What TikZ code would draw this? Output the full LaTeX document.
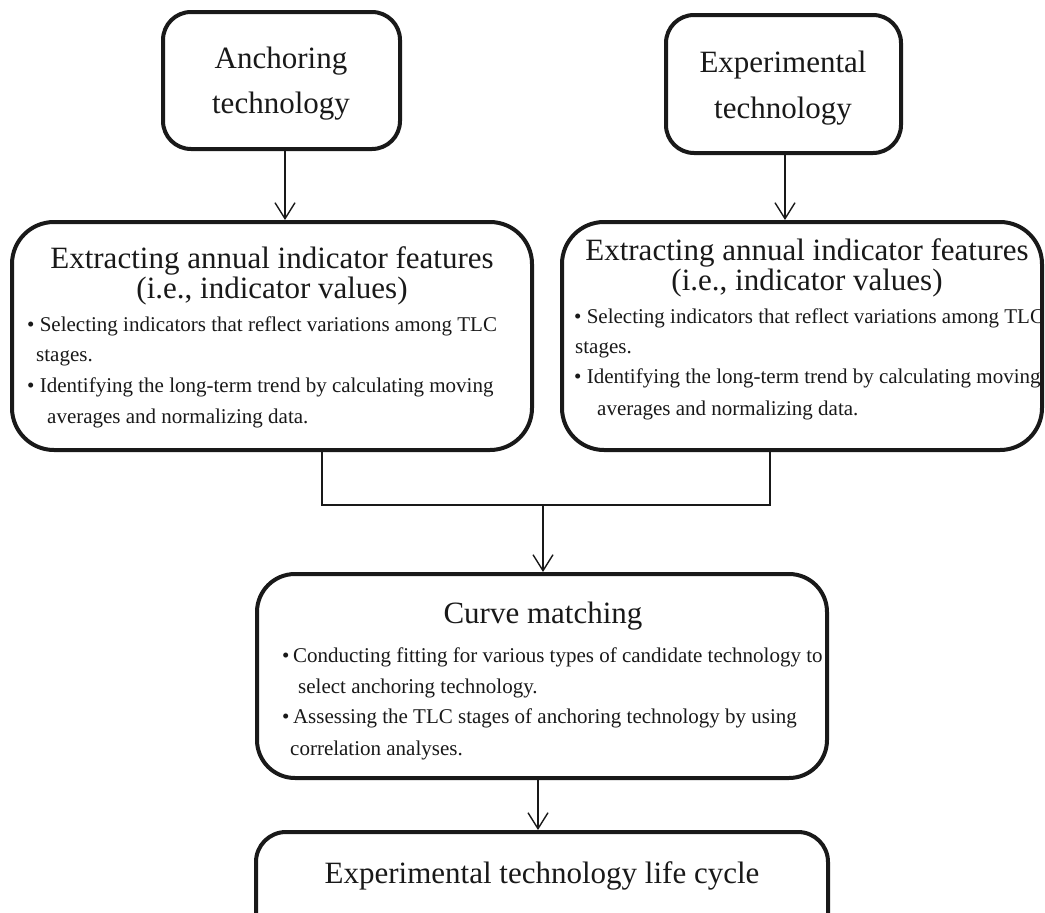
\documentclass[tikz,border=0pt]{standalone}
\usepackage{fontspec}
\setmainfont{Liberation Serif}
\usetikzlibrary{arrows.meta}
\tikzset{
  box/.style={draw=black!90, line width=4pt, inner sep=0pt, fill=white},
  ttl/.style={font=\fontsize{31}{36}\selectfont, inner sep=0pt, text=black!90},
  btxt/.style={font=\fontsize{21}{25}\selectfont, inner sep=0pt, anchor=base west, text=black!90},
  conn/.style={draw=black!90, line width=1.4pt},
  arr/.style={conn, -{Straight Barb[length=16pt, width=20pt, line width=1.4pt]}},
}
\begin{document}
\begin{tikzpicture}[x=1pt, y=-1pt]
\clip (0,0) rectangle (1045,913);
\fill[white] (0,0) rectangle (1045,913);
% boxes
\node[box, rounded corners=28pt, minimum width=237pt, minimum height=137pt] (a1) at (281.5,80.5) {};
\node[box, rounded corners=28pt, minimum width=235pt, minimum height=138pt] (e1) at (783.5,84) {};
\node[box, rounded corners=42pt, minimum width=520pt, minimum height=228pt] (lm) at (272,336) {};
\node[box, rounded corners=42pt, minimum width=480pt, minimum height=228pt] (rm) at (802,336) {};
\node[box, rounded corners=38pt, minimum width=570pt, minimum height=204pt] (cm) at (542,676) {};
\node[box, rounded corners=30pt, minimum width=572pt, minimum height=150pt] (bm) at (542,907) {};
% top texts
\node[ttl, anchor=base] (a1t1) at (281,68) {Anchoring};
\node[ttl, anchor=base] (a1t2) at (281,113) {technology};
\node[ttl, anchor=base] (e1t1) at (783,72) {Experimental};
\node[ttl, anchor=base] (e1t2) at (783,118) {technology};
% left middle texts
\node[ttl, anchor=base] (lmt1) at (272,268) {Extracting annual indicator features};
\node[ttl, anchor=base] (lmt2) at (272,298) {(i.e., indicator values)};
\node[btxt] (lmb1) at (27,331) {• Selecting indicators that reflect variations among TLC};
\node[btxt] (lmb1b) at (36,361) {stages.};
\node[btxt] (lmb2) at (27,392) {• Identifying the long-term trend by calculating moving};
\node[btxt] (lmb2b) at (47,423) {averages and normalizing data.};
% right middle texts
\node[ttl, anchor=base] (rmt1) at (807,260) {Extracting annual indicator features};
\node[ttl, anchor=base] (rmt2) at (807,290) {(i.e., indicator values)};
\node[btxt] (rmb1) at (574,323) {• Selecting indicators that reflect variations among TLC};
\node[btxt] (rmb1b) at (575,353) {stages.};
\node[btxt] (rmb2) at (574,383) {• Identifying the long-term trend by calculating moving};
\node[btxt] (rmb2b) at (597,415) {averages and normalizing data.};
% curve matching texts
\node[ttl, anchor=base] (cmt) at (543,623) {Curve matching};
\node[btxt] (cmb1) at (282,662) {•\,Conducting fitting for various types of candidate technology to};
\node[btxt] (cmb1b) at (298,693) {select anchoring technology.};
\node[btxt] (cmb2) at (282,723) {•\,Assessing the TLC stages of anchoring technology by using};
\node[btxt] (cmb2b) at (290,755) {correlation analyses.};
% bottom text
\node[ttl, anchor=base] (bmt) at (542,883) {Experimental technology life cycle};
% connectors
\coordinate (jl) at (322,505);
\coordinate (jr) at (770,505);
\coordinate (jm) at (543,505);
\draw[arr] (a1.south -| 285,0) -- (lm.north -| 285,0);
\draw[arr] (e1.south -| 785,0) -- (rm.north -| 785,0);
\draw[conn] (lm.south -| jl) -- (jl) -- (jr) -- (rm.south -| jr);
\draw[arr] (jm) -- (cm.north -| jm);
\draw[arr] (cm.south -| 538,0) -- (bm.north -| 538,0);
\end{tikzpicture}
\end{document}
